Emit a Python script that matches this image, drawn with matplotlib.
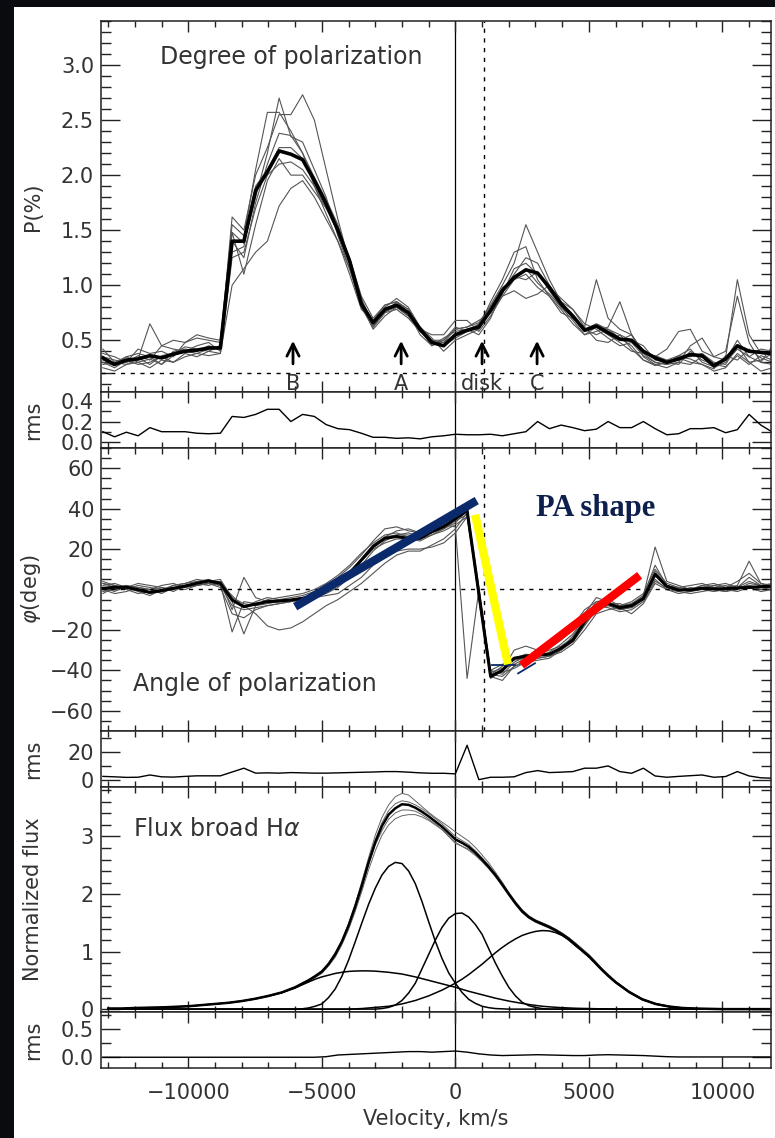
import numpy as np
import matplotlib
matplotlib.use("Agg")
import matplotlib.pyplot as plt
from matplotlib.ticker import MultipleLocator
from matplotlib.patches import Rectangle

# velocity grid of the polarization spectra (km/s)
VEL = [-13200, -12760, -12320, -11880, -11440, -11000, -10560, -10120, -9680, -9240,
       -8800, -8360, -7920, -7480, -7040, -6600, -6160, -5720, -5280, -4840,
       -4400, -3960, -3520, -3080, -2640, -2200, -1760, -1320, -880, -440,
       0, 440, 880, 1320, 1760, 2200, 2640, 3080, 3520, 3960,
       4400, 4840, 5280, 5720, 6160, 6600, 7040, 7480, 7920, 8360,
       8800, 9240, 9680, 10120, 10560, 11000, 11440, 11880]

# degree of polarization: mean and individual observations
P_MEAN = [0.34, 0.28, 0.32, 0.33, 0.36, 0.34, 0.375, 0.40, 0.41, 0.43, 0.43,
          1.40, 1.40, 1.86, 2.03, 2.22, 2.19, 2.14, 1.95, 1.74, 1.50,
          1.22, 0.83, 0.66, 0.78, 0.82, 0.75, 0.60, 0.48, 0.45,
          0.55, 0.59, 0.62, 0.77, 0.95, 1.07, 1.14, 1.11, 0.98, 0.83,
          0.72, 0.59, 0.63, 0.57, 0.51, 0.50, 0.40, 0.34, 0.30, 0.33,
          0.37, 0.36, 0.27, 0.33, 0.45, 0.40, 0.39, 0.38]
P_OBS = [
    [0.30, 0.27, 0.35, 0.30, 0.33, 0.28, 0.36, 0.40, 0.38, 0.42, 0.45,
     1.62, 1.50, 2.00, 2.25, 2.55, 2.55, 2.73, 2.50, 2.05, 1.60,
     1.20, 0.85, 0.62, 0.75, 0.85, 0.78, 0.62, 0.50, 0.48,
     0.60, 0.62, 0.66, 0.82, 1.00, 1.20, 1.55, 1.30, 1.05, 0.85,
     0.78, 0.62, 1.05, 0.70, 0.60, 0.55, 0.38, 0.30, 0.28, 0.36,
     0.42, 0.30, 0.26, 0.34, 1.05, 0.55, 0.38, 0.36],
    [0.42, 0.30, 0.28, 0.33, 0.65, 0.45, 0.50, 0.48, 0.52, 0.50, 0.48,
     1.48, 1.38, 1.80, 2.20, 2.70, 2.35, 2.30, 2.05, 1.80, 1.45,
     1.15, 0.80, 0.62, 0.80, 0.88, 0.80, 0.62, 0.52, 0.40,
     0.50, 0.55, 0.60, 0.80, 0.95, 1.10, 1.25, 1.20, 1.00, 0.80,
     0.68, 0.55, 0.58, 0.62, 0.85, 0.55, 0.35, 0.28, 0.25, 0.30,
     0.45, 0.52, 0.35, 0.40, 0.90, 0.48, 0.30, 0.28],
    [0.25, 0.22, 0.28, 0.30, 0.25, 0.32, 0.30, 0.35, 0.38, 0.36, 0.38,
     1.00, 1.15, 1.30, 1.40, 1.72, 1.88, 1.95, 1.80, 1.60, 1.40,
     1.15, 0.82, 0.60, 0.72, 0.80, 0.72, 0.60, 0.55, 0.55,
     0.68, 0.68, 0.58, 0.72, 0.90, 0.95, 0.88, 0.92, 1.00, 0.85,
     0.70, 0.62, 0.50, 0.48, 0.55, 0.42, 0.32, 0.27, 0.30, 0.35,
     0.33, 0.28, 0.22, 0.25, 0.38, 0.30, 0.22, 0.25],
    [0.35, 0.32, 0.30, 0.42, 0.38, 0.40, 0.35, 0.48, 0.55, 0.52, 0.50,
     1.55, 1.45, 2.05, 2.57, 2.57, 2.40, 2.20, 1.90, 1.65, 1.40,
     1.10, 0.78, 0.68, 0.82, 0.85, 0.78, 0.60, 0.45, 0.50,
     0.62, 0.58, 0.62, 0.85, 1.05, 1.30, 1.35, 1.05, 0.90, 0.78,
     0.65, 0.55, 0.62, 0.55, 0.50, 0.55, 0.40, 0.35, 0.42, 0.58,
     0.60, 0.40, 0.35, 0.32, 0.50, 0.35, 0.42, 0.40],
    [0.28, 0.30, 0.35, 0.38, 0.35, 0.28, 0.40, 0.42, 0.40, 0.45, 0.42,
     1.40, 1.25, 1.75, 2.10, 2.38, 2.36, 2.20, 1.98, 1.72, 1.50,
     1.22, 0.85, 0.66, 0.78, 0.80, 0.72, 0.58, 0.50, 0.50,
     0.60, 0.62, 0.68, 0.75, 0.92, 1.15, 1.20, 1.10, 0.98, 0.88,
     0.78, 0.65, 0.60, 0.52, 0.45, 0.48, 0.36, 0.30, 0.28, 0.30,
     0.28, 0.35, 0.25, 0.30, 0.42, 0.35, 0.30, 0.45],
    [0.30, 0.25, 0.32, 0.28, 0.30, 0.35, 0.30, 0.38, 0.35, 0.40, 0.38,
     1.25, 1.30, 1.70, 2.00, 2.10, 2.12, 2.05, 1.90, 1.70, 1.48,
     1.22, 0.80, 0.62, 0.75, 0.78, 0.70, 0.58, 0.48, 0.45,
     0.52, 0.58, 0.65, 0.80, 0.98, 1.05, 1.10, 0.98, 0.90, 0.75,
     0.70, 0.60, 0.65, 0.60, 0.55, 0.50, 0.45, 0.32, 0.30, 0.28,
     0.40, 0.32, 0.28, 0.26, 0.36, 0.28, 0.36, 0.32],
    [0.38, 0.35, 0.30, 0.36, 0.32, 0.45, 0.42, 0.40, 0.45, 0.48, 0.40,
     1.48, 1.10, 1.55, 1.95, 2.15, 2.00, 2.00, 1.85, 1.70, 1.52,
     1.25, 0.90, 0.70, 0.82, 0.85, 0.75, 0.55, 0.45, 0.52,
     0.58, 0.60, 0.55, 0.70, 0.95, 1.08, 1.05, 1.12, 0.95, 0.80,
     0.72, 0.60, 0.55, 0.60, 0.52, 0.45, 0.32, 0.28, 0.30, 0.34,
     0.30, 0.28, 0.24, 0.36, 0.32, 0.42, 0.34, 0.30],
    [0.32, 0.28, 0.30, 0.34, 0.28, 0.36, 0.38, 0.44, 0.42, 0.40, 0.45,
     1.30, 1.35, 1.90, 2.05, 2.25, 2.25, 2.15, 1.98, 1.78, 1.55,
     1.20, 0.88, 0.64, 0.76, 0.80, 0.74, 0.62, 0.48, 0.48,
     0.55, 0.60, 0.64, 0.75, 0.90, 1.05, 1.15, 1.02, 0.92, 0.80,
     0.72, 0.58, 0.62, 0.55, 0.48, 0.40, 0.38, 0.36, 0.32, 0.36,
     0.35, 0.38, 0.30, 0.28, 0.45, 0.30, 0.32, 0.38],
]
P_RMS = [0.10, 0.05, 0.095, 0.06, 0.14, 0.10, 0.10, 0.10, 0.085, 0.08, 0.085,
         0.25, 0.24, 0.27, 0.32, 0.32, 0.20, 0.27, 0.25, 0.17, 0.13,
         0.12, 0.085, 0.045, 0.045, 0.035, 0.04, 0.03, 0.05, 0.06, 0.075,
         0.07, 0.07, 0.075, 0.06, 0.08, 0.10, 0.20, 0.13, 0.165, 0.14,
         0.11, 0.125, 0.20, 0.14, 0.14, 0.20, 0.13, 0.07, 0.08, 0.13,
         0.13, 0.14, 0.09, 0.12, 0.27, 0.165, 0.095]

# angle of polarization (deg)
PA_MEAN = [0.6, 1.1, 1.1, -0.1, -1.4, -0.6, 0.6, 1.7, 3.1, 4.2, 3.1,
           -5.2, -8.5, -7.2, -6.0, -5.7, -5.2, -4.4, -3.2, -0.7, 3.1,
           8.0, 14.6, 21.2, 25.3, 26.2, 25.3, 25.3, 28.6, 31.1, 35.0,
           39.0, -2.0, -43.0, -40.0, -34.0, -33.0, -32.5, -32.0, -29.0, -25.0,
           -16.0, -8.5, -7.0, -9.0, -8.0, -4.5, 7.5, 1.5, -0.2, -0.2,
           0.6, 0.3, 0.4, 0.8, 1.0, 1.4, 1.6]
PA_OBS = [
    [3, 2, 0, -2, -1, 1, 0, 2, 3, 4, 2,
     -5, -8, -12, -18, -20, -19, -16, -12, -8, -5,
     -1, 3, 8, 13, 17, 19, 19, 22, 25, 30,
     38, -3, -42, -43, -38, -36, -35, -34, -30, -26,
     -18, -10, -8, -10, -9, -5, 8, 2, 0, -1,
     1, 0, -1, 1, 2, 1, 2],
    [-2, 1, 2, 0, -2, -1, 2, 3, 4, 5, 3,
     -21, -6, -7, -6, -5, -4, -3, -1, 2, 6,
     11, 17, 24, 30, 31, 29, 28, 30, 32, 31,
     -44, 0, -42, -38, -34, -32, -33, -31, -27, -22,
     -14, -6, -5, -8, -6, -2, 10, 3, 1, 2,
     3, 1, 2, 0, 3, 2, 1],
    [1, -1, 2, 1, 0, -2, 1, 0, 2, 3, 4,
     -6, -22, -8, -5, -4, -3, -2, 0, 3, 7,
     12, 18, 23, 27, 28, 26, 27, 29, 33, 36,
     40, -5, -44, -40, -30, -28, -30, -29, -25, -20,
     -12, -4, -6, -10, -8, -3, 21, 4, 2, 0,
     2, 3, 1, 4, 8, 3, 1],
    [4, 2, 1, 3, 2, 1, -1, 2, 3, 2, 4,
     -10, 6, -4, -6, -6, -5, -5, -4, -2, 1,
     6, 12, 19, 24, 27, 28, 26, 28, 30, 34,
     37, -2, -40, -42, -36, -33, -32, -30, -28, -24,
     -16, -10, -7, -7, -9, -5, 5, 0, -1, 1,
     0, 2, 1, 2, 14, 3, 2],
    [-1, 0, 1, -1, -3, 0, 1, 1, 2, 3, 2,
     -8, -10, -9, -8, -7, -6, -5, -3, -1, 2,
     7, 14, 20, 23, 25, 25, 24, 27, 29, 32,
     36, 0, -41, -39, -37, -34, -33, -32, -29, -23,
     -15, -8, -9, -11, -10, -6, 4, 1, -1, -2,
     -1, 0, -1, 0, 2, 0, 1],
    [2, 3, 1, 0, 0, 2, 3, 1, 3, 4, 3,
     -3, -9, -6, -4, -5, -5, -4, -2, 0, 4,
     9, 15, 22, 26, 27, 27, 25, 27, 30, 33,
     39, -1, -43, -45, -38, -35, -34, -33, -31, -27,
     -20, -12, -10, -9, -7, -3, 12, 2, 0, 0,
     2, 1, 0, 1, 4, 2, 2],
    [0, -2, -1, 1, 0, -1, 0, 2, 2, 3, 1,
     -12, -14, -10, -8, -7, -6, -5, -4, -3, -2,
     2, 6, 12, 16, 19, 20, 20, 21, 23, 28,
     36, -3, -40, -37, -35, -34, -30, -26, -22, -18,
     -10, -6, -6, -9, -12, -7, 3, 0, -2, -1,
     0, -1, 0, -1, 1, -1, 0],
    [3, 1, 0, 2, 1, 0, 2, 3, 5, 4, 5,
     -4, -7, -8, -7, -6, -5, -4, -3, 0, 3,
     8, 15, 22, 26, 29, 30, 28, 31, 34, 37,
     41, 1, -42, -41, -39, -36, -34, -33, -30, -25,
     -17, -8, -7, -8, -7, -4, 9, 2, 1, 0,
     1, 2, 3, 1, 6, 2, 3],
]
PA_RMS = [2.5, 2.2, 1.8, 1.9, 3.5, 2.2, 2.0, 2.5, 2.9, 2.9, 2.9,
          5.6, 8.3, 4.8, 5.0, 4.8, 5.2, 5.0, 4.8, 4.8, 5.0,
          5.2, 5.4, 5.6, 5.9, 5.9, 5.5, 5.0, 4.7, 4.7, 4.3,
          24.5, 0.2, 1.9, 1.9, 2.2, 5.2, 6.6, 5.2, 5.5, 5.9,
          8.3, 8.3, 9.9, 5.9, 4.7, 8.3, 2.8, 1.9, 2.5, 3.0,
          3.5, 1.9, 2.4, 5.9, 2.8, 1.5, 1.2]

# broad H-alpha flux profiles (500 km/s in the wings, 250 km/s in the core)
F_VEL = [-13000, -12500, -12000, -11500, -11000, -10500, -10000, -9500, -9000, -8500,
         -8000, -7500, -7000, -6500,
         -6000, -5750, -5500, -5250, -5000, -4750, -4500, -4250, -4000, -3750,
         -3500, -3250, -3000, -2750, -2500, -2250, -2000, -1750, -1500, -1250,
         -1000, -750, -500, -250, 0, 250, 500, 750, 1000, 1250,
         1500, 1750, 2000, 2250, 2500, 2750, 3000, 3250, 3500, 3750,
         4000, 4250, 4500, 4750, 5000, 5250, 5500, 5750, 6000,
         6500, 7000, 7500, 8000, 8500, 9000, 9500, 10000, 10500, 11000, 11500, 12000]
F_MEAN = [0.01, 0.01, 0.02, 0.025, 0.03, 0.04, 0.05, 0.07, 0.09, 0.11, 0.14, 0.18, 0.23, 0.29,
          0.38, 0.44, 0.50, 0.57, 0.65, 0.78, 0.95, 1.17, 1.45, 1.78,
          2.15, 2.55, 2.90, 3.18, 3.38, 3.49, 3.56, 3.55, 3.50, 3.43,
          3.35, 3.26, 3.17, 3.06, 2.95, 2.89, 2.82, 2.72, 2.60, 2.47,
          2.33, 2.17, 2.00, 1.84, 1.70, 1.60, 1.53, 1.48, 1.43, 1.37,
          1.30, 1.22, 1.12, 1.02, 0.92, 0.80, 0.68, 0.57, 0.47,
          0.30, 0.17, 0.09, 0.045, 0.02, 0.01, 0.005, 0, 0, 0, 0, 0]
F_OBS = [
    [0.01, 0.01, 0.02, 0.025, 0.03, 0.04, 0.05, 0.07, 0.09, 0.11, 0.14, 0.18, 0.22, 0.28,
     0.37, 0.43, 0.49, 0.56, 0.64, 0.77, 0.95, 1.18, 1.48, 1.83,
     2.22, 2.63, 3.02, 3.33, 3.55, 3.69, 3.75, 3.72, 3.62, 3.52,
     3.42, 3.33, 3.25, 3.17, 3.08, 3.00, 2.92, 2.81, 2.68, 2.54,
     2.38, 2.21, 2.03, 1.87, 1.73, 1.62, 1.55, 1.50, 1.45, 1.39,
     1.32, 1.24, 1.15, 1.05, 0.95, 0.83, 0.70, 0.59, 0.48,
     0.31, 0.18, 0.10, 0.05, 0.02, 0.01, 0.005, 0, 0, 0, 0, 0],
    [0.01, 0.01, 0.02, 0.025, 0.03, 0.04, 0.05, 0.07, 0.09, 0.11, 0.14, 0.17, 0.22, 0.28,
     0.36, 0.42, 0.48, 0.55, 0.62, 0.75, 0.90, 1.12, 1.38, 1.70,
     2.05, 2.42, 2.75, 3.02, 3.20, 3.31, 3.36, 3.38, 3.38, 3.34,
     3.28, 3.20, 3.12, 3.01, 2.90, 2.83, 2.76, 2.67, 2.56, 2.44,
     2.30, 2.14, 1.98, 1.82, 1.68, 1.58, 1.51, 1.46, 1.41, 1.35,
     1.28, 1.20, 1.10, 1.00, 0.90, 0.78, 0.66, 0.55, 0.45,
     0.29, 0.16, 0.08, 0.04, 0.02, 0.01, 0.005, 0, 0, 0, 0, 0],
    [0.01, 0.01, 0.02, 0.025, 0.03, 0.04, 0.05, 0.07, 0.09, 0.11, 0.14, 0.18, 0.23, 0.29,
     0.38, 0.44, 0.50, 0.58, 0.66, 0.80, 0.97, 1.20, 1.48, 1.82,
     2.18, 2.58, 2.94, 3.24, 3.45, 3.57, 3.62, 3.60, 3.55, 3.48,
     3.40, 3.31, 3.22, 3.11, 3.00, 2.93, 2.86, 2.75, 2.63, 2.50,
     2.35, 2.19, 2.02, 1.86, 1.72, 1.62, 1.55, 1.50, 1.45, 1.39,
     1.32, 1.24, 1.14, 1.04, 0.94, 0.82, 0.70, 0.59, 0.48,
     0.31, 0.18, 0.09, 0.045, 0.02, 0.01, 0.005, 0, 0, 0, 0, 0],
    [0.01, 0.01, 0.02, 0.025, 0.03, 0.04, 0.05, 0.07, 0.09, 0.11, 0.14, 0.18, 0.23, 0.29,
     0.38, 0.45, 0.51, 0.59, 0.67, 0.80, 0.98, 1.19, 1.47, 1.78,
     2.12, 2.50, 2.85, 3.10, 3.30, 3.41, 3.46, 3.46, 3.44, 3.38,
     3.30, 3.22, 3.12, 3.00, 2.88, 2.83, 2.78, 2.69, 2.58, 2.45,
     2.31, 2.15, 1.98, 1.82, 1.68, 1.58, 1.52, 1.47, 1.42, 1.36,
     1.29, 1.21, 1.11, 1.01, 0.91, 0.79, 0.67, 0.56, 0.46,
     0.29, 0.16, 0.09, 0.045, 0.02, 0.01, 0.005, 0, 0, 0, 0, 0],
]
# gaussian components of the fit
F_WIDE = [0.01, 0.01, 0.02, 0.025, 0.03, 0.04, 0.05, 0.07, 0.09, 0.11, 0.14, 0.18, 0.23, 0.29,
          0.37, 0.42, 0.47, 0.52, 0.56, 0.59, 0.62, 0.64, 0.655, 0.662,
          0.665, 0.664, 0.66, 0.65, 0.64, 0.625, 0.61, 0.585, 0.56, 0.53,
          0.50, 0.47, 0.44, 0.41, 0.38, 0.345, 0.31, 0.28, 0.25, 0.22,
          0.19, 0.165, 0.14, 0.12, 0.10, 0.08, 0.065, 0.05, 0.04, 0.032,
          0.025, 0.02, 0.015, 0.012, 0.01, 0.007, 0.005, 0.002, 0.0,
          0, 0, 0, 0, 0, 0, 0, 0, 0, 0, 0, 0]
F_BLUE = [0, 0, 0, 0, 0, 0, 0, 0, 0, 0, 0, 0, 0, 0,
          0.0, 0.005, 0.02, 0.05, 0.09, 0.20, 0.35, 0.57, 0.85, 1.17,
          1.50, 1.82, 2.10, 2.33, 2.48, 2.55, 2.53, 2.40, 2.18, 1.87,
          1.52, 1.18, 0.88, 0.63, 0.45, 0.29, 0.17, 0.10, 0.05, 0.025,
          0.01, 0.005, 0, 0, 0, 0, 0, 0, 0, 0,
          0, 0, 0, 0, 0, 0, 0, 0, 0,
          0, 0, 0, 0, 0, 0, 0, 0, 0, 0, 0, 0]
F_CORE = [0, 0, 0, 0, 0, 0, 0, 0, 0, 0, 0, 0, 0, 0,
          0, 0, 0, 0, 0, 0, 0, 0, 0, 0,
          0, 0, 0.0, 0.01, 0.03, 0.07, 0.15, 0.28, 0.45, 0.70,
          0.95, 1.20, 1.42, 1.58, 1.66, 1.67, 1.60, 1.47, 1.30, 1.05,
          0.80, 0.58, 0.38, 0.23, 0.12, 0.06, 0.03, 0.01, 0.0, 0,
          0, 0, 0, 0, 0, 0, 0, 0, 0,
          0, 0, 0, 0, 0, 0, 0, 0, 0, 0, 0, 0]
F_RED = [0, 0, 0, 0, 0, 0, 0, 0, 0, 0, 0, 0, 0, 0,
         0, 0, 0, 0, 0, 0, 0, 0, 0.0, 0.005,
         0.01, 0.02, 0.03, 0.04, 0.05, 0.07, 0.09, 0.12, 0.15, 0.19,
         0.23, 0.28, 0.33, 0.39, 0.45, 0.52, 0.60, 0.69, 0.78, 0.88,
         0.98, 1.07, 1.15, 1.22, 1.28, 1.32, 1.35, 1.365, 1.36, 1.33,
         1.28, 1.20, 1.10, 1.01, 0.91, 0.80, 0.68, 0.57, 0.47,
         0.30, 0.17, 0.09, 0.045, 0.02, 0.01, 0.0, 0, 0, 0, 0, 0]
F_RMS = [0, 0, 0, 0, 0, 0, 0, 0, 0, 0,
         0, 0, 0, 0, 0, 0, 0, 0, 0,
         0.01, 0.04, 0.05, 0.06, 0.07, 0.08, 0.09, 0.10, 0.10, 0.09, 0.10, 0.11,
         0.09, 0.06, 0.04, 0.03, 0.035, 0.04, 0.045, 0.04, 0.035, 0.03,
         0.03, 0.04, 0.045, 0.04, 0.035, 0.03, 0.02, 0.01,
         0.005, 0.005, 0.005, 0.005, 0.005, 0.005, 0.005, 0.005, 0.005]

# arrows in the polarization panel
ARROW_VEL = [-6080, -2030, 1000, 3060]
ARROW_TXT = ["B", "A", "disk", "C"]

# PA shape segments (velocity, angle)
BLUE_SEG = ([-6000, 800], [-8.5, 44])
YELLOW_SEG = ([740, 1970], [37, -37])
RED_SEG = ([2480, 6900], [-37.5, 7])

XLIM = (-13270, 11820)
TXT = "#333333"
FS = 15

plt.rcParams["font.family"] = ["DejaVu Sans"]
plt.rcParams["axes.linewidth"] = 1.1

fig = plt.figure(figsize=(7.75, 11.38), dpi=100, facecolor="#090b11")
bg = Rectangle((14 / 775, 0), 761 / 775, 1 - 7 / 1138, transform=fig.transFigure,
               facecolor="white", edgecolor="none", zorder=-10)
fig.add_artist(bg)

L, W = 101 / 775, 670 / 775


def panel(top, bottom):
    return fig.add_axes([L, 1 - bottom / 1138, W, (bottom - top) / 1138])


def style(ax, ylim, major, minor, label, bottom=False):
    ax.set_xlim(XLIM)
    ax.set_ylim(ylim)
    ax.xaxis.set_major_locator(MultipleLocator(5000))
    ax.xaxis.set_minor_locator(MultipleLocator(1000))
    ax.yaxis.set_major_locator(MultipleLocator(major))
    ax.yaxis.set_minor_locator(MultipleLocator(minor))
    ax.tick_params(which="both", direction="in", top=True, right=True,
                   labelsize=FS, labelcolor=TXT, color="#222222", pad=5,
                   labelbottom=bottom)
    ax.tick_params(axis="y", which="major", length=14, width=1)
    ax.tick_params(axis="y", which="minor", length=7, width=1)
    ax.tick_params(axis="x", which="major", length=8, width=1, pad=11)
    ax.tick_params(axis="x", which="minor", length=4, width=1)
    ax.set_ylabel(label, fontsize=FS, color=TXT)
    ax.yaxis.set_label_coords(-0.087, 0.5)
    ax.axvline(0, color="black", lw=0.9, zorder=1)
    for s in ax.spines.values():
        s.set_color("#222222")


# --- degree of polarization
ax1 = panel(21, 392)
style(ax1, (0.03, 3.4), 0.5, 0.1, "P(%)")
for obs in P_OBS:
    ax1.plot(VEL, obs, color="#555555", lw=0.8)
ax1.plot(VEL, P_MEAN, color="black", lw=2.6)
ax1.axhline(0.2, color="black", lw=1, ls=(0, (3, 4)))
ax1.axvline(1080, color="black", lw=1, ls=(0, (3, 4)))
ax1.text(-11060, 3.07, "Degree of polarization", fontsize=17, color=TXT, va="center")
for v, t in zip(ARROW_VEL, ARROW_TXT):
    ax1.annotate("", xy=(v, 0.52), xytext=(v, 0.26),
                 arrowprops=dict(arrowstyle="->", lw=2, color="black", mutation_scale=22))
    ax1.text(v, 0.105, t, fontsize=FS, color=TXT, ha="center", va="center")

# --- rms of P
ax2 = panel(392, 448)
style(ax2, (-0.06, 0.49), 0.2, 0.1, "rms")
ax2.plot(VEL, P_RMS, color="black", lw=1)

# --- angle of polarization
ax3 = panel(448, 731)
style(ax3, (-70, 70), 20, 5, r"$\varphi$(deg)")
for obs in PA_OBS:
    ax3.plot(VEL, obs, color="#555555", lw=0.8)
ax3.plot(VEL, PA_MEAN, color="black", lw=2.2)
ax3.axhline(0, color="black", lw=1, ls=(0, (3, 4)))
ax3.axvline(1080, color="black", lw=1, ls=(0, (3, 4)))
ax3.plot(*BLUE_SEG, color="#0b2a6b", lw=6, solid_capstyle="butt", zorder=5)
ax3.plot(*YELLOW_SEG, color="#ffff00", lw=6, solid_capstyle="butt", zorder=5)
ax3.plot(*RED_SEG, color="#ff0000", lw=6, solid_capstyle="butt", zorder=5)
ax3.plot([1380, 2250], [-37.5, -37.5], color="#0b2a6b", lw=1.3, zorder=4)
ax3.plot([2350, 2980], [-41.5, -36.5], color="#0b2a6b", lw=1.3, zorder=4)
ax3.text(5270, 40.3, "PA shape", fontsize=22, fontweight="bold", color="#0d1f4d",
         family=["Liberation Serif", "DejaVu Serif"], ha="center", va="center")
ax3.text(-12070, -46.8, "Angle of polarization", fontsize=17, color=TXT, va="center")

# --- rms of angle
ax4 = panel(731, 787)
style(ax4, (-5, 34.6), 20, 10, "rms")
ax4.plot(VEL, PA_RMS, color="black", lw=1)

# --- broad H-alpha flux
ax5 = panel(787, 1012)
style(ax5, (-0.05, 3.86), 1, 0.2, "Normalized flux")
for obs in F_OBS:
    ax5.plot(F_VEL, obs, color="#666666", lw=0.7)
ax5.plot(F_VEL, F_MEAN, color="black", lw=1.8)
for comp in (F_WIDE, F_BLUE, F_CORE, F_RED):
    ax5.plot(F_VEL, comp, color="black", lw=1.1)
ax5.text(-12070, 3.13, r"Flux broad H$\alpha$", fontsize=17, color=TXT, va="center")

# --- rms of flux
ax6 = panel(1012, 1068)
style(ax6, (-0.19, 0.80), 0.5, 0.25, "rms", bottom=True)
ax6.plot(VEL, F_RMS, color="black", lw=1)
ax6.set_xlabel("Velocity, km/s", fontsize=FS, color=TXT, labelpad=4)

fig.savefig("out.png", dpi=100, facecolor=fig.get_facecolor())
